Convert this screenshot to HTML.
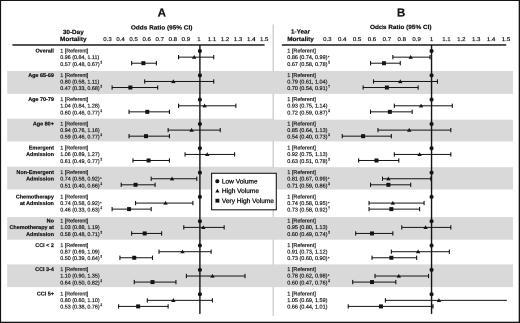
<!DOCTYPE html>
<html><head><meta charset="utf-8"><title>Forest plot</title>
<style>html,body{margin:0;padding:0;background:#fff;width:520px;height:323px;overflow:hidden}body{font-family:"Liberation Sans",sans-serif}text{stroke:#141414;stroke-width:0.2px}.lg text{stroke-width:0.3px}#wrap{position:relative;width:520px;height:323px;overflow:hidden;contain:strict}svg{display:block;position:absolute;left:0;top:0;will-change:transform;transform:scale(0.5);transform-origin:0 0;text-rendering:geometricPrecision}</style>
</head><body>
<div id="wrap">
<svg width="1040" height="646" viewBox="0 0 520 323" font-family="'Liberation Sans', sans-serif" fill="#141414">
<rect x="0" y="0" width="520" height="323" fill="#fff"/>
<rect x="7.2" y="71.00" width="266.40" height="22.90" fill="#d9d9d9"/>
<rect x="7.2" y="118.70" width="266.40" height="22.70" fill="#d9d9d9"/>
<rect x="7.2" y="166.70" width="266.40" height="22.80" fill="#d9d9d9"/>
<rect x="7.2" y="217.00" width="266.40" height="22.70" fill="#d9d9d9"/>
<rect x="7.2" y="264.40" width="266.40" height="22.70" fill="#d9d9d9"/>
<rect x="273.4" y="71.00" width="239.60" height="22.90" fill="#d9d9d9"/>
<rect x="273.4" y="119.70" width="239.60" height="21.70" fill="#d9d9d9"/>
<rect x="273.4" y="167.20" width="239.60" height="22.30" fill="#d9d9d9"/>
<rect x="273.4" y="217.00" width="239.60" height="22.70" fill="#d9d9d9"/>
<rect x="273.4" y="264.40" width="239.60" height="22.70" fill="#d9d9d9"/>
<rect x="272.6" y="24.4" width="1.2" height="291.6" fill="#c8c8c8"/>
<rect x="272.3" y="71.00" width="2" height="22.90" fill="#d9d9d9"/>
<rect x="272.3" y="119.70" width="2" height="21.70" fill="#d9d9d9"/>
<rect x="272.3" y="167.20" width="2" height="22.30" fill="#d9d9d9"/>
<rect x="272.3" y="217.00" width="2" height="22.70" fill="#d9d9d9"/>
<rect x="272.3" y="264.40" width="2" height="22.70" fill="#d9d9d9"/>
<g font-weight="bold">
<text transform="translate(161.75 16.70) scale(1.000 1)" font-size="11.60" text-anchor="middle">A</text>
<text transform="translate(401.05 16.70) scale(1.000 1)" font-size="11.60" text-anchor="middle">B</text>
<text transform="translate(161.60 29.30) scale(1.085 1)" font-size="5.95" text-anchor="middle">Odds Ratio (95% CI)</text>
<text transform="translate(400.80 28.85) scale(1.085 1)" font-size="5.95" text-anchor="middle">Odds Ratio (95% CI)</text>
<text transform="translate(73.30 33.80) scale(1.060 1)" font-size="6.00" text-anchor="middle">30-Day</text>
<text transform="translate(73.30 41.00) scale(1.060 1)" font-size="6.00" text-anchor="middle">Mortality</text>
<text transform="translate(300.50 33.70) scale(1.060 1)" font-size="6.00" text-anchor="middle">1-Year</text>
<text transform="translate(300.50 41.00) scale(1.060 1)" font-size="6.00" text-anchor="middle">Mortality</text>
</g>
<g>
<text transform="translate(107.50 41.20) scale(1.100 1)" font-size="5.50" text-anchor="middle">0.3</text>
<text transform="translate(327.30 41.20) scale(1.100 1)" font-size="5.50" text-anchor="middle">0.3</text>
<text transform="translate(120.56 41.20) scale(1.100 1)" font-size="5.50" text-anchor="middle">0.4</text>
<text transform="translate(342.19 41.20) scale(1.100 1)" font-size="5.50" text-anchor="middle">0.4</text>
<text transform="translate(133.62 41.20) scale(1.100 1)" font-size="5.50" text-anchor="middle">0.5</text>
<text transform="translate(357.08 41.20) scale(1.100 1)" font-size="5.50" text-anchor="middle">0.5</text>
<text transform="translate(146.68 41.20) scale(1.100 1)" font-size="5.50" text-anchor="middle">0.6</text>
<text transform="translate(371.97 41.20) scale(1.100 1)" font-size="5.50" text-anchor="middle">0.6</text>
<text transform="translate(159.74 41.20) scale(1.100 1)" font-size="5.50" text-anchor="middle">0.7</text>
<text transform="translate(386.86 41.20) scale(1.100 1)" font-size="5.50" text-anchor="middle">0.7</text>
<text transform="translate(172.80 41.20) scale(1.100 1)" font-size="5.50" text-anchor="middle">0.8</text>
<text transform="translate(401.75 41.20) scale(1.100 1)" font-size="5.50" text-anchor="middle">0.8</text>
<text transform="translate(185.86 41.20) scale(1.100 1)" font-size="5.50" text-anchor="middle">0.9</text>
<text transform="translate(416.64 41.20) scale(1.100 1)" font-size="5.50" text-anchor="middle">0.9</text>
<text transform="translate(198.92 41.20) scale(1.100 1)" font-size="5.50" text-anchor="middle">1</text>
<text transform="translate(431.53 41.20) scale(1.100 1)" font-size="5.50" text-anchor="middle">1</text>
<text transform="translate(211.98 41.20) scale(1.100 1)" font-size="5.50" text-anchor="middle">1.1</text>
<text transform="translate(446.42 41.20) scale(1.100 1)" font-size="5.50" text-anchor="middle">1.1</text>
<text transform="translate(225.04 41.20) scale(1.100 1)" font-size="5.50" text-anchor="middle">1.2</text>
<text transform="translate(461.31 41.20) scale(1.100 1)" font-size="5.50" text-anchor="middle">1.2</text>
<text transform="translate(238.10 41.20) scale(1.100 1)" font-size="5.50" text-anchor="middle">1.3</text>
<text transform="translate(476.20 41.20) scale(1.100 1)" font-size="5.50" text-anchor="middle">1.3</text>
<text transform="translate(251.16 41.20) scale(1.100 1)" font-size="5.50" text-anchor="middle">1.4</text>
<text transform="translate(491.09 41.20) scale(1.100 1)" font-size="5.50" text-anchor="middle">1.4</text>
<text transform="translate(264.22 41.20) scale(1.100 1)" font-size="5.50" text-anchor="middle">1.5</text>
<text transform="translate(505.98 41.20) scale(1.100 1)" font-size="5.50" text-anchor="middle">1.5</text>
</g>
<rect x="12.4" y="44.25" width="252.20" height="1.45"/>
<rect x="281.9" y="44.25" width="224.30" height="1.45"/>
<rect x="199.2" y="45" width="1.4" height="268.9"/>
<rect x="430.85" y="45" width="1.4" height="268.9"/>
<g font-size="5.45" font-weight="bold" text-anchor="end">
<text x="53.9" y="52.65">Overall</text>
<text x="53.9" y="76.92">Age 65-69</text>
<text x="53.9" y="101.19">Age 70-79</text>
<text x="53.9" y="125.46">Age 80+</text>
<text x="53.9" y="149.73">Emergent</text>
<text x="53.9" y="156.23">Admission</text>
<text x="53.9" y="174.00">Non-Emergent</text>
<text x="53.9" y="180.50">Admission</text>
<text x="53.9" y="198.27">Chemotherapy</text>
<text x="53.9" y="204.77">at Admission</text>
<text x="53.9" y="222.54">No</text>
<text x="53.9" y="229.04">Chemotherapy at</text>
<text x="53.9" y="235.79">Admission</text>
<text x="53.9" y="246.81">CCI &lt; 2</text>
<text x="53.9" y="271.08">CCI 3-4</text>
<text x="53.9" y="295.35">CCI 5+</text>
</g>
<g font-size="5.36">
<text x="60.3" y="52.65">1 [Referent]</text>
<text x="60.30" y="59.15">0.96 (0.84, 1.11)</text>
<text x="60.30" y="65.90">0.57 (0.48, 0.67)<tspan font-size="3.8" dx="0.5" dy="-2.5">‡</tspan></text>
<text x="60.3" y="76.92">1 [Referent]</text>
<text x="60.30" y="83.42">0.80 (0.58, 1.11)</text>
<text x="60.30" y="90.17">0.47 (0.33, 0.68)<tspan font-size="3.8" dx="0.5" dy="-2.5">‡</tspan></text>
<text x="60.3" y="101.19">1 [Referent]</text>
<text x="60.30" y="107.69">1.04 (0.84, 1.28)</text>
<text x="60.30" y="114.44">0.60 (0.46, 0.77)<tspan font-size="3.8" dx="0.5" dy="-2.5">‡</tspan></text>
<text x="60.3" y="125.46">1 [Referent]</text>
<text x="60.30" y="131.96">0.94 (0.76, 1.16)</text>
<text x="60.30" y="138.71">0.59 (0.46, 0.77)<tspan font-size="3.8" dx="0.5" dy="-2.5">‡</tspan></text>
<text x="60.3" y="149.73">1 [Referent]</text>
<text x="60.30" y="156.23">1.06 (0.89, 1.27)</text>
<text x="60.30" y="162.98">0.61 (0.49, 0.77)<tspan font-size="3.8" dx="0.5" dy="-2.5">‡</tspan></text>
<text x="60.3" y="174.00">1 [Referent]</text>
<text x="60.30" y="180.50">0.74 (0.58, 0.92)<tspan font-size="3.8" dx="0.5" dy="-0.5">*</tspan></text>
<text x="60.30" y="187.25">0.51 (0.40, 0.66)<tspan font-size="3.8" dx="0.5" dy="-2.5">‡</tspan></text>
<text x="60.3" y="198.27">1 [Referent]</text>
<text x="60.30" y="204.77">0.74 (0.58, 0.92)<tspan font-size="3.8" dx="0.5" dy="-0.5">*</tspan></text>
<text x="60.30" y="211.52">0.46 (0.33, 0.63)<tspan font-size="3.8" dx="0.5" dy="-2.5">‡</tspan></text>
<text x="60.3" y="222.54">1 [Referent]</text>
<text x="60.30" y="229.04">1.03 (0.88, 1.19)</text>
<text x="60.30" y="235.79">0.58 (0.48, 0.71)<tspan font-size="3.8" dx="0.5" dy="-2.5">‡</tspan></text>
<text x="60.3" y="246.81">1 [Referent]</text>
<text x="60.30" y="253.31">0.87 (0.69, 1.09)</text>
<text x="60.30" y="260.06">0.50 (0.39, 0.64)<tspan font-size="3.8" dx="0.5" dy="-2.5">‡</tspan></text>
<text x="60.3" y="271.08">1 [Referent]</text>
<text x="60.30" y="277.58">1.10 (0.90, 1.35)</text>
<text x="60.30" y="284.33">0.64 (0.50, 0.82)<tspan font-size="3.8" dx="0.5" dy="-2.5">‡</tspan></text>
<text x="60.3" y="295.35">1 [Referent]</text>
<text x="60.30" y="301.85">0.80 (0.60, 1.10)</text>
<text x="60.30" y="308.60">0.53 (0.38, 0.76)<tspan font-size="3.8" dx="0.5" dy="-2.5">‡</tspan></text>
</g>
<g font-size="5.47">
<text x="287.3" y="52.65">1 [Referent]</text>
<text x="287.30" y="59.15">0.86 (0.74, 0.99)<tspan font-size="3.8" dx="0.5" dy="-0.5">*</tspan></text>
<text x="287.30" y="65.90">0.67 (0.58, 0.78)<tspan font-size="3.8" dx="0.5" dy="-2.5">‡</tspan></text>
<text x="287.3" y="76.92">1 [Referent]</text>
<text x="287.30" y="83.42">0.79 (0.61, 1.04)</text>
<text x="287.30" y="90.17">0.70 (0.54, 0.91)<tspan font-size="3.8" dx="0.5" dy="-2.5">†</tspan></text>
<text x="287.3" y="101.19">1 [Referent]</text>
<text x="287.30" y="107.69">0.93 (0.75, 1.14)</text>
<text x="287.30" y="114.44">0.72 (0.59, 0.87)<tspan font-size="3.8" dx="0.5" dy="-2.5">‡</tspan></text>
<text x="287.3" y="125.46">1 [Referent]</text>
<text x="287.30" y="131.96">0.85 (0.64, 1.13)</text>
<text x="287.30" y="138.71">0.54 (0.40, 0.73)<tspan font-size="3.8" dx="0.5" dy="-2.5">‡</tspan></text>
<text x="287.3" y="149.73">1 [Referent]</text>
<text x="287.30" y="156.23">0.92 (0.75, 1.13)</text>
<text x="287.30" y="162.98">0.63 (0.51, 0.78)<tspan font-size="3.8" dx="0.5" dy="-2.5">‡</tspan></text>
<text x="287.3" y="174.00">1 [Referent]</text>
<text x="287.30" y="180.50">0.81 (0.67, 0.99)<tspan font-size="3.8" dx="0.5" dy="-0.5">*</tspan></text>
<text x="287.30" y="187.25">0.71 (0.59, 0.86)<tspan font-size="3.8" dx="0.5" dy="-2.5">‡</tspan></text>
<text x="287.3" y="198.27">1 [Referent]</text>
<text x="287.30" y="204.77">0.74 (0.58, 0.95)<tspan font-size="3.8" dx="0.5" dy="-0.5">*</tspan></text>
<text x="287.30" y="211.52">0.73 (0.58, 0.92)<tspan font-size="3.8" dx="0.5" dy="-2.5">†</tspan></text>
<text x="287.3" y="222.54">1 [Referent]</text>
<text x="287.30" y="229.04">0.95 (0.80, 1.13)</text>
<text x="287.30" y="235.79">0.60 (0.49, 0.74)<tspan font-size="3.8" dx="0.5" dy="-2.5">‡</tspan></text>
<text x="287.3" y="246.81">1 [Referent]</text>
<text x="287.30" y="253.31">0.91 (0.73, 1.12)</text>
<text x="287.30" y="260.06">0.73 (0.60, 0.90)<tspan font-size="3.8" dx="0.5" dy="-0.5">*</tspan></text>
<text x="287.3" y="271.08">1 [Referent]</text>
<text x="287.30" y="277.58">0.78 (0.62, 0.98)<tspan font-size="3.8" dx="0.5" dy="-0.5">*</tspan></text>
<text x="287.30" y="284.33">0.60 (0.47, 0.76)<tspan font-size="3.8" dx="0.5" dy="-2.5">‡</tspan></text>
<text x="287.3" y="295.35">1 [Referent]</text>
<text x="287.30" y="301.85">1.05 (0.69, 1.59)</text>
<text x="287.30" y="308.60">0.66 (0.44, 1.01)</text>
</g>
<circle cx="199.9" cy="51.00" r="2.0"/>
<circle cx="431.55" cy="51.00" r="2.0"/>
<rect x="178.55" y="56.65" width="35.18" height="1"/><rect x="178.00" y="55.00" width="1.1" height="4.3"/><rect x="213.18" y="55.00" width="1.1" height="4.3"/><path d="M194.19 54.95 L196.39 58.75 L191.99 58.75 Z"/>
<rect x="131.64" y="62.70" width="24.76" height="1"/><rect x="131.09" y="61.05" width="1.1" height="4.3"/><rect x="155.85" y="61.05" width="1.1" height="4.3"/><rect x="141.37" y="61.20" width="4" height="4"/>
<rect x="392.84" y="56.65" width="37.17" height="1"/><rect x="392.29" y="55.00" width="1.1" height="4.3"/><rect x="429.46" y="55.00" width="1.1" height="4.3"/><path d="M410.68 54.95 L412.88 58.75 L408.48 58.75 Z"/>
<rect x="370.53" y="62.70" width="29.74" height="1"/><rect x="369.98" y="61.05" width="1.1" height="4.3"/><rect x="399.72" y="61.05" width="1.1" height="4.3"/><rect x="381.92" y="61.20" width="4" height="4"/>
<circle cx="199.9" cy="75.32" r="2.0"/>
<circle cx="431.55" cy="75.32" r="2.0"/>
<rect x="144.67" y="80.97" width="69.06" height="1"/><rect x="144.12" y="79.32" width="1.1" height="4.3"/><rect x="213.18" y="79.32" width="1.1" height="4.3"/><path d="M173.34 79.27 L175.54 83.07 L171.14 83.07 Z"/>
<rect x="112.10" y="87.02" width="45.61" height="1"/><rect x="111.55" y="85.37" width="1.1" height="4.3"/><rect x="157.15" y="85.37" width="1.1" height="4.3"/><rect x="128.34" y="85.52" width="4" height="4"/>
<rect x="373.51" y="80.97" width="63.94" height="1"/><rect x="372.96" y="79.32" width="1.1" height="4.3"/><rect x="436.90" y="79.32" width="1.1" height="4.3"/><path d="M400.27 79.27 L402.47 83.07 L398.07 83.07 Z"/>
<rect x="363.10" y="87.02" width="55.02" height="1"/><rect x="362.55" y="85.37" width="1.1" height="4.3"/><rect x="417.57" y="85.37" width="1.1" height="4.3"/><rect x="384.89" y="85.52" width="4" height="4"/>
<circle cx="199.9" cy="99.64" r="2.0"/>
<circle cx="431.55" cy="99.64" r="2.0"/>
<rect x="178.55" y="105.29" width="57.33" height="1"/><rect x="178.00" y="103.64" width="1.1" height="4.3"/><rect x="235.33" y="103.64" width="1.1" height="4.3"/><path d="M204.61 103.59 L206.81 107.39 L202.41 107.39 Z"/>
<rect x="129.04" y="111.34" width="40.39" height="1"/><rect x="128.49" y="109.69" width="1.1" height="4.3"/><rect x="168.88" y="109.69" width="1.1" height="4.3"/><rect x="145.28" y="109.84" width="4" height="4"/>
<rect x="394.32" y="105.29" width="57.99" height="1"/><rect x="393.77" y="103.64" width="1.1" height="4.3"/><rect x="451.77" y="103.64" width="1.1" height="4.3"/><path d="M421.09 103.59 L423.29 107.39 L418.89 107.39 Z"/>
<rect x="370.53" y="111.34" width="41.64" height="1"/><rect x="369.98" y="109.69" width="1.1" height="4.3"/><rect x="411.62" y="109.69" width="1.1" height="4.3"/><rect x="387.86" y="109.84" width="4" height="4"/>
<circle cx="199.9" cy="123.96" r="2.0"/>
<circle cx="431.55" cy="123.96" r="2.0"/>
<rect x="168.13" y="129.61" width="52.12" height="1"/><rect x="167.58" y="127.96" width="1.1" height="4.3"/><rect x="219.70" y="127.96" width="1.1" height="4.3"/><path d="M191.58 127.91 L193.78 131.71 L189.38 131.71 Z"/>
<rect x="129.04" y="135.66" width="40.39" height="1"/><rect x="128.49" y="134.01" width="1.1" height="4.3"/><rect x="168.88" y="134.01" width="1.1" height="4.3"/><rect x="143.98" y="134.16" width="4" height="4"/>
<rect x="377.97" y="129.61" width="72.86" height="1"/><rect x="377.42" y="127.96" width="1.1" height="4.3"/><rect x="450.28" y="127.96" width="1.1" height="4.3"/><path d="M409.19 127.91 L411.39 131.71 L407.00 131.71 Z"/>
<rect x="342.28" y="135.66" width="49.07" height="1"/><rect x="341.73" y="134.01" width="1.1" height="4.3"/><rect x="390.80" y="134.01" width="1.1" height="4.3"/><rect x="361.10" y="134.16" width="4" height="4"/>
<circle cx="199.9" cy="148.28" r="2.0"/>
<circle cx="431.55" cy="148.28" r="2.0"/>
<rect x="185.07" y="153.93" width="49.51" height="1"/><rect x="184.52" y="152.28" width="1.1" height="4.3"/><rect x="234.03" y="152.28" width="1.1" height="4.3"/><path d="M207.22 152.23 L209.42 156.03 L205.02 156.03 Z"/>
<rect x="132.95" y="159.98" width="36.48" height="1"/><rect x="132.40" y="158.33" width="1.1" height="4.3"/><rect x="168.88" y="158.33" width="1.1" height="4.3"/><rect x="146.58" y="158.48" width="4" height="4"/>
<rect x="394.32" y="153.93" width="56.51" height="1"/><rect x="393.77" y="152.28" width="1.1" height="4.3"/><rect x="450.28" y="152.28" width="1.1" height="4.3"/><path d="M419.60 152.23 L421.80 156.03 L417.40 156.03 Z"/>
<rect x="358.64" y="159.98" width="40.15" height="1"/><rect x="358.09" y="158.33" width="1.1" height="4.3"/><rect x="398.24" y="158.33" width="1.1" height="4.3"/><rect x="374.48" y="158.48" width="4" height="4"/>
<circle cx="199.9" cy="172.60" r="2.0"/>
<circle cx="431.55" cy="172.60" r="2.0"/>
<rect x="151.19" y="178.25" width="45.61" height="1"/><rect x="150.64" y="176.60" width="1.1" height="4.3"/><rect x="196.24" y="176.60" width="1.1" height="4.3"/><path d="M172.04 176.55 L174.24 180.35 L169.84 180.35 Z"/>
<rect x="121.22" y="184.30" width="33.88" height="1"/><rect x="120.67" y="182.65" width="1.1" height="4.3"/><rect x="154.55" y="182.65" width="1.1" height="4.3"/><rect x="133.55" y="182.80" width="4" height="4"/>
<rect x="382.43" y="178.25" width="48.33" height="1"/><rect x="381.88" y="176.60" width="1.1" height="4.3"/><rect x="430.21" y="176.60" width="1.1" height="4.3"/><path d="M388.38 176.55 L390.58 180.35 L386.18 180.35 Z"/>
<rect x="370.53" y="184.30" width="40.15" height="1"/><rect x="369.98" y="182.65" width="1.1" height="4.3"/><rect x="410.13" y="182.65" width="1.1" height="4.3"/><rect x="386.38" y="182.80" width="4" height="4"/>
<circle cx="199.9" cy="196.92" r="2.0"/>
<circle cx="431.55" cy="196.92" r="2.0"/>
<rect x="135.55" y="202.57" width="57.33" height="1"/><rect x="135.00" y="200.92" width="1.1" height="4.3"/><rect x="192.33" y="200.92" width="1.1" height="4.3"/><path d="M165.52 200.87 L167.72 204.67 L163.32 204.67 Z"/>
<rect x="112.10" y="208.62" width="39.09" height="1"/><rect x="111.55" y="206.97" width="1.1" height="4.3"/><rect x="150.64" y="206.97" width="1.1" height="4.3"/><rect x="127.04" y="207.12" width="4" height="4"/>
<rect x="369.05" y="202.57" width="55.02" height="1"/><rect x="368.50" y="200.92" width="1.1" height="4.3"/><rect x="423.51" y="200.92" width="1.1" height="4.3"/><path d="M392.84 200.87 L395.04 204.67 L390.64 204.67 Z"/>
<rect x="369.05" y="208.62" width="50.56" height="1"/><rect x="368.50" y="206.97" width="1.1" height="4.3"/><rect x="419.05" y="206.97" width="1.1" height="4.3"/><rect x="389.35" y="207.12" width="4" height="4"/>
<circle cx="199.9" cy="221.24" r="2.0"/>
<circle cx="431.55" cy="221.24" r="2.0"/>
<rect x="183.76" y="226.89" width="40.39" height="1"/><rect x="183.21" y="225.24" width="1.1" height="4.3"/><rect x="223.61" y="225.24" width="1.1" height="4.3"/><path d="M203.31 225.19 L205.51 228.99 L201.11 228.99 Z"/>
<rect x="131.64" y="232.94" width="29.97" height="1"/><rect x="131.09" y="231.29" width="1.1" height="4.3"/><rect x="161.06" y="231.29" width="1.1" height="4.3"/><rect x="142.67" y="231.44" width="4" height="4"/>
<rect x="401.76" y="226.89" width="49.07" height="1"/><rect x="401.21" y="225.24" width="1.1" height="4.3"/><rect x="450.28" y="225.24" width="1.1" height="4.3"/><path d="M425.55 225.19 L427.75 228.99 L423.35 228.99 Z"/>
<rect x="355.66" y="232.94" width="37.18" height="1"/><rect x="355.11" y="231.29" width="1.1" height="4.3"/><rect x="392.29" y="231.29" width="1.1" height="4.3"/><rect x="370.02" y="231.44" width="4" height="4"/>
<circle cx="199.9" cy="245.56" r="2.0"/>
<circle cx="431.55" cy="245.56" r="2.0"/>
<rect x="159.01" y="251.21" width="52.12" height="1"/><rect x="158.46" y="249.56" width="1.1" height="4.3"/><rect x="210.58" y="249.56" width="1.1" height="4.3"/><path d="M182.46 249.51 L184.66 253.31 L180.26 253.31 Z"/>
<rect x="119.92" y="257.26" width="32.58" height="1"/><rect x="119.37" y="255.61" width="1.1" height="4.3"/><rect x="151.94" y="255.61" width="1.1" height="4.3"/><rect x="132.25" y="255.76" width="4" height="4"/>
<rect x="391.35" y="251.21" width="57.99" height="1"/><rect x="390.80" y="249.56" width="1.1" height="4.3"/><rect x="448.79" y="249.56" width="1.1" height="4.3"/><path d="M418.12 249.51 L420.32 253.31 L415.92 253.31 Z"/>
<rect x="372.02" y="257.26" width="44.61" height="1"/><rect x="371.47" y="255.61" width="1.1" height="4.3"/><rect x="416.08" y="255.61" width="1.1" height="4.3"/><rect x="389.35" y="255.76" width="4" height="4"/>
<circle cx="199.9" cy="269.88" r="2.0"/>
<circle cx="431.55" cy="269.88" r="2.0"/>
<rect x="186.37" y="275.53" width="58.64" height="1"/><rect x="185.82" y="273.88" width="1.1" height="4.3"/><rect x="244.46" y="273.88" width="1.1" height="4.3"/><path d="M212.43 273.83 L214.63 277.63 L210.23 277.63 Z"/>
<rect x="134.25" y="281.58" width="41.70" height="1"/><rect x="133.70" y="279.93" width="1.1" height="4.3"/><rect x="175.40" y="279.93" width="1.1" height="4.3"/><rect x="150.49" y="280.08" width="4" height="4"/>
<rect x="374.99" y="275.53" width="53.53" height="1"/><rect x="374.44" y="273.88" width="1.1" height="4.3"/><rect x="427.98" y="273.88" width="1.1" height="4.3"/><path d="M398.79 273.83 L400.99 277.63 L396.59 277.63 Z"/>
<rect x="352.69" y="281.58" width="43.12" height="1"/><rect x="352.14" y="279.93" width="1.1" height="4.3"/><rect x="395.26" y="279.93" width="1.1" height="4.3"/><rect x="370.02" y="280.08" width="4" height="4"/>
<circle cx="199.9" cy="294.20" r="2.0"/>
<circle cx="431.55" cy="294.20" r="2.0"/>
<rect x="147.28" y="299.85" width="65.15" height="1"/><rect x="146.73" y="298.20" width="1.1" height="4.3"/><rect x="211.88" y="298.20" width="1.1" height="4.3"/><path d="M173.34 298.15 L175.54 301.95 L171.14 301.95 Z"/>
<rect x="118.61" y="305.90" width="49.51" height="1"/><rect x="118.06" y="304.25" width="1.1" height="4.3"/><rect x="167.58" y="304.25" width="1.1" height="4.3"/><rect x="136.16" y="304.40" width="4" height="4"/>
<rect x="385.40" y="299.85" width="121.50" height="1"/><rect x="384.85" y="298.20" width="1.1" height="4.3"/><path d="M438.94 298.15 L441.13 301.95 L436.74 301.95 Z"/>
<rect x="348.23" y="305.90" width="84.76" height="1"/><rect x="347.68" y="304.25" width="1.1" height="4.3"/><rect x="432.44" y="304.25" width="1.1" height="4.3"/><rect x="378.94" y="304.40" width="4" height="4"/>
<rect x="211.6" y="173.3" width="64.7" height="36.5" fill="#fff" stroke="#1a1a1a" stroke-width="1.1"/>
<circle cx="217.3" cy="181.3" r="2.0"/>
<path d="M217.4 188.8 L219.5 192.5 L215.3 192.5 Z"/>
<rect x="215.45" y="198.75" width="3.9" height="3.9"/>
<g class="lg" font-size="6.55">
<text x="221.9" y="183.6">Low Volume</text>
<text x="221.9" y="193.2">High Volume</text>
<text x="221.9" y="202.8">Very High Volume</text>
</g>
<rect x="0" y="0" width="520" height="1.0"/>
<rect x="0" y="0" width="1.1" height="323"/>
<rect x="518.7" y="0" width="1.3" height="323"/>
<rect x="0" y="321.7" width="520" height="1.3"/>
</svg>
</div>
</body></html>
